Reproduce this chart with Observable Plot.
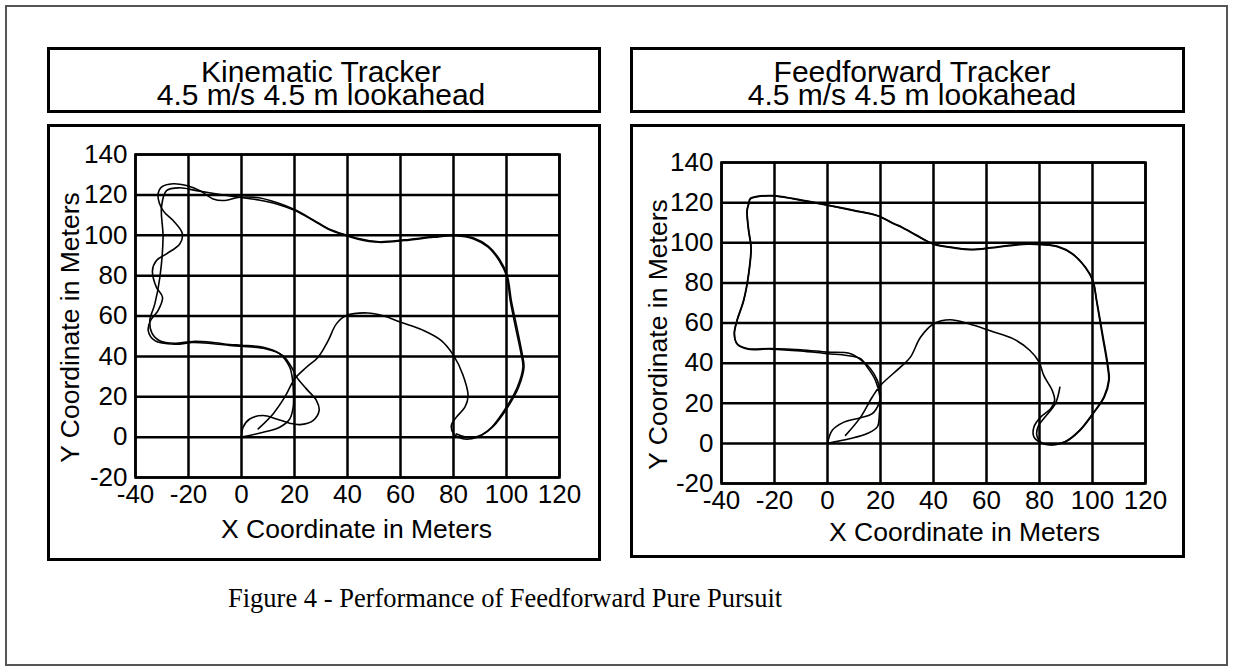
<!DOCTYPE html>
<html>
<head>
<meta charset="utf-8">
<script src="https://cdn.jsdelivr.net/npm/d3@7"></script>
<script src="https://cdn.jsdelivr.net/npm/@observablehq/plot@0.6"></script>
<style>
  html, body { margin: 0; padding: 0; background: #fff; }
  body { width: 1233px; height: 672px; position: relative; overflow: hidden; font-family: "Liberation Sans", Arial, sans-serif; }
  .abs { position: absolute; box-sizing: border-box; }
  #outer { left: 5px; top: 5px; width: 1223px; height: 661px; border: 2px solid #555; }
  .box { border: 3px solid #000; }
  .title { position: absolute; font-size: 30px; line-height: 23px; text-align: center; white-space: nowrap; color: #000; }
  #caption { font-family: "Liberation Serif", "Times New Roman", serif; font-size: 26.5px; white-space: nowrap; color: #000; }
  .chart { position: absolute; }
  .chart svg { overflow: visible; }
</style>
</head>
<body>
<div id="outer" class="abs"></div>
<div class="abs box" style="left:47px;top:47px;width:554px;height:66px;"></div>
<div class="abs box" style="left:630px;top:47px;width:555px;height:66px;"></div>
<div class="abs box" style="left:47px;top:124px;width:554px;height:437px;"></div>
<div class="abs box" style="left:630px;top:124px;width:555px;height:434px;"></div>
<div id="titleL" class="title"></div>
<div id="titleR" class="title"></div>
<div id="chartL" class="chart" style="left:47px;top:124px;"></div>
<div id="chartR" class="chart" style="left:630px;top:124px;"></div>
<div id="caption" class="abs"></div>
<script>
// ---------- data ----------
const titleLeft = ["Kinematic Tracker", "4.5 m/s 4.5 m lookahead"];
const titleRight = ["Feedforward Tracker", "4.5 m/s 4.5 m lookahead"];
const xLabel = "X Coordinate in Meters";
const yLabel = "Y Coordinate in Meters";
const captionText = "Figure 4 - Performance of Feedforward Pure Pursuit";
const xTicks = [-40, -20, 0, 20, 40, 60, 80, 100, 120];
const yTicks = [-20, 0, 20, 40, 60, 80, 100, 120, 140];

// Kinematic tracker: planned path and vehicle path [x, y] in meters
const pathLeft = [[0,0],[8.2,2.4],[14.4,4.9],[18.2,9],[19.5,14.8],[19.6,22],[19.3,28],[18.2,34.6],[14.4,41.3],[8.2,44.5],[0,45.5],[-4.5,45.9],[-11.4,47],[-18.3,47.4],[-25.2,46.5],[-30.7,47.6],[-33.8,51.5],[-34.6,57.8],[-32.7,66],[-30.8,79.2],[-29.6,99],[-30.2,113.9],[-28.3,122.1],[-23.3,123.5],[-17,122.1],[-8,120.2],[-0.6,118.8],[6.5,117.5],[13.3,115.5],[20.2,112.2],[27.1,107.3],[32.6,103.1],[39.5,99.8],[43.6,98.2],[51.9,96.5],[61.5,97.4],[72.5,99],[80.7,99.8],[87.6,98.2],[93.1,94.1],[97.2,87.5],[100,80],[101.4,67.7],[103.4,54.5],[105.5,41.3],[106.2,34.7],[104.1,24.8],[100,14.9],[94.5,5],[90.4,0.8],[86.9,-0.8],[83.5,-0.8],[80.1,1.7],[79.2,5.8],[81.1,9.9],[84.3,14.8],[85.5,20.5],[83.5,31],[80,40.5],[75.2,48],[68.4,53],[60.1,56.9],[53.2,60.2],[47.7,61.5],[39.6,60.2],[35.8,56.1],[32.7,47.8],[28.9,39.6],[24.5,34.6],[20.1,28.9],[16.3,19.8],[11.9,11.5],[6.3,4.1]];
const vehicleLeft = [[0,0],[0.6,4.9],[3.1,9],[8.2,10.7],[13.2,9],[18.2,6.9],[22,6.2],[27,8.2],[29.3,13.2],[28.3,18.1],[24.5,23.9],[20.8,29.7],[18.9,34.6],[15.5,40.5],[9,43.8],[0,45],[-4.5,45.4],[-11.4,46.4],[-18.3,46.9],[-25.2,46],[-32.7,47.8],[-35.2,52.8],[-34.3,57.8],[-31.5,62.7],[-29.8,69.3],[-32.1,74.2],[-33.6,82.5],[-32.1,87.5],[-28.3,90.8],[-23.3,95.7],[-22.3,100.7],[-25.8,107.3],[-29.6,112.2],[-31.5,119.7],[-30.2,123.8],[-25.8,125.5],[-20.8,124.6],[-15.7,122.1],[-10.7,118],[-6.9,117.2],[-0.6,118.8],[6.5,118.6],[13.3,116.2],[20.2,112.6],[27.1,107.6],[32.6,103.4],[39.5,100.1],[43.6,98.5],[51.9,96.8],[61.5,97.7],[72.5,99.3],[80.7,100.1],[87.6,98.6],[93.1,94.6],[97.4,88],[100.3,80],[101.8,67.7],[103.9,54.5],[105.9,41.3],[106.6,34.7],[104.6,24.8],[100.5,14.9],[95,5.3],[90.8,1.2],[87.2,-0.2],[84.2,0.2],[81.1,1.6]];

// Feedforward tracker: planned path and vehicle path [x, y] in meters
const pathRight = [[0,0],[8.7,2.4],[15,4.9],[18.8,8.2],[19.6,14.8],[19.8,23.1],[18.1,31.4],[15,38],[12.5,42.2],[7.4,43.8],[-0.1,44.7],[-10.2,46.1],[-21.5,47],[-30.3,47],[-34.1,49.5],[-35.1,54.6],[-34.1,61.2],[-31.6,71.2],[-29.7,84.5],[-28.8,97.7],[-29.7,106],[-30.3,116],[-29.7,119.3],[-29.1,121.8],[-26.5,122.9],[-20.3,123.3],[-12.7,121.8],[-2.6,119.3],[9.9,116],[18.8,113.5],[25,109.4],[28.1,107.6],[33.7,103.5],[40,99.3],[47.7,97.4],[54.7,96.5],[61.7,97.4],[68.6,98.5],[75.6,99.3],[81.2,99],[86.8,98],[92.4,94.4],[97.3,87.7],[100.1,81.1],[101.5,71.2],[103.6,54.6],[105.7,38.1],[106.1,31.5],[104.3,23.2],[100.1,14.9],[95.2,6.6],[89.6,0.8],[84.7,-0.8],[80.5,0.3],[77.9,3.2],[77.9,8.2],[80.4,13.1],[84.2,17.3],[85.7,21.4],[84.8,26.4],[81.6,33.9],[79.8,40.6],[76.3,46.4],[70,52.2],[61.7,56],[53.3,59.6],[46.3,61.6],[40.1,59.6],[35.1,52.9],[31.3,43],[27.5,38],[20,28.9],[16.9,23.1],[12.5,13.1],[6.8,4]];
const vehicleRight = [[0,0],[1.8,6.5],[6.2,10.6],[12.5,12.8],[16.9,14.8],[19.4,19.8],[20,24.8],[18.8,31.4],[16.2,37.2],[13.7,40.5],[8.7,44.7],[-0.1,45.5],[-10.2,46.7],[-21.5,47.3],[-30.3,47.3],[-34.2,49.8],[-35.2,54.6],[-34.2,61.2],[-31.7,71.2],[-29.8,84.5],[-28.9,97.7],[-29.8,106],[-30.4,116],[-29.8,119.4],[-29.2,122],[-26.5,123.1],[-20.3,123.5],[-12.7,122],[-2.6,119.5],[9.9,116.2],[18.8,113.6],[25,109.6],[28.1,107.8],[33.7,103.7],[40,99.5],[47.7,97.6],[54.7,96.7],[61.7,97.6],[68.6,98.7],[75.6,99.5],[81.2,99.2],[86.8,98.2],[92.4,94.6],[97.3,87.9],[100.2,81.1],[101.6,71.2],[103.8,54.6],[105.9,38.1],[106.3,31.5],[104.5,23.2],[100.3,14.9],[95.4,6.6],[89.8,0.8],[84.7,-0.6],[80.6,0.5],[79,4],[79.5,8.5],[82,13],[86,19.8],[87.7,28]];

// ---------- drawing ----------
function makeChart(cfg) {
  const lineOpts = {x: d => d[0], y: d => d[1], curve: "catmull-rom", stroke: "#000", strokeWidth: 1.6};
  return Plot.plot({
    width: cfg.width, height: cfg.height,
    marginLeft: cfg.ml, marginRight: cfg.mr, marginTop: cfg.mt, marginBottom: cfg.mb,
    x: {domain: [-40, 120]},
    y: {domain: [-20, 140]},
    style: {fontFamily: "'Liberation Sans', Arial, sans-serif", fontSize: "26px", color: "#000", background: "transparent", overflow: "visible"},
    marks: [
      Plot.gridX(xTicks, {stroke: "#000", strokeOpacity: 1, strokeWidth: 2.5}),
      Plot.gridY(yTicks, {stroke: "#000", strokeOpacity: 1, strokeWidth: 2.5}),
      Plot.frame({stroke: "#000", strokeWidth: 2.5}),
      Plot.axisX(xTicks, {tickSize: 0, tickPadding: 7, label: null, fontSize: 26, tickFormat: d => String(d)}),
      Plot.axisY(yTicks, {tickSize: 0, tickPadding: 8, label: null, fontSize: 26, tickFormat: d => String(d)}),
      Plot.line(cfg.path, lineOpts),
      Plot.line(cfg.vehicle, lineOpts),
      Plot.text([xLabel], {text: d => d, frameAnchor: "bottom", textAnchor: "middle", dx: cfg.xlDx, dy: cfg.xlDy, lineAnchor: "middle", fontSize: 26.5, fill: "#000"}),
      Plot.text([yLabel], {text: d => d, frameAnchor: "left", textAnchor: "middle", lineAnchor: "middle", rotate: -90, dx: cfg.ylDx, dy: cfg.ylDy, fontSize: 26.5, fill: "#000"})
    ]
  });
}

document.getElementById("chartL").append(makeChart({
  width: 554, height: 437, ml: 88, mr: 42, mt: 30, mb: 84,
  path: pathLeft, vehicle: vehicleLeft, xlDx: 9, xlDy: 52, ylDx: -65, ylDy: 11.5
}));
document.getElementById("chartR").append(makeChart({
  width: 555, height: 434, ml: 91, mr: 40, mt: 38, mb: 75,
  path: pathRight, vehicle: vehicleRight, xlDx: 31, xlDy: 49, ylDx: -63, ylDy: 11.5
}));

function setTitle(id, lines, cx) {
  const el = document.getElementById(id);
  el.innerHTML = "";
  lines.forEach(t => { const d = document.createElement("div"); d.textContent = t; el.appendChild(d); });
  el.style.left = (cx - 250) + "px";
  el.style.width = "500px";
  el.style.top = "60px";
}
setTitle("titleL", titleLeft, 321);
setTitle("titleR", titleRight, 912);

const cap = document.getElementById("caption");
cap.textContent = captionText;
cap.style.left = "228px";
cap.style.top = "583px";
</script>
</body>
</html>
